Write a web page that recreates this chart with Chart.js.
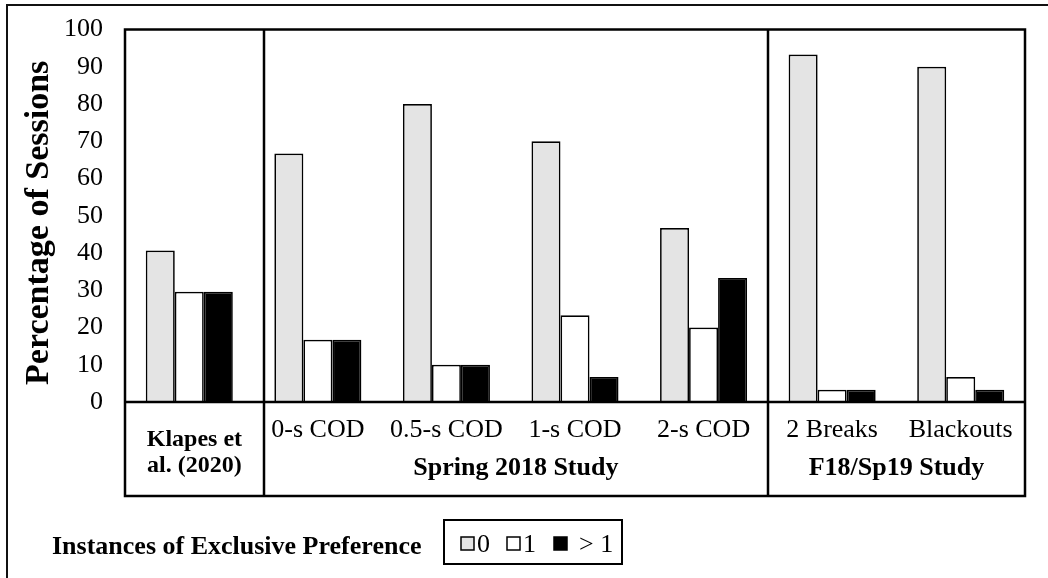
<!DOCTYPE html>
<html>
<head>
<meta charset="utf-8">
<style>
  html, body { margin: 0; padding: 0; background: #fff; }
  canvas { display: block; }
</style>
<script src="https://cdn.jsdelivr.net/npm/chart.js@4.4.1/dist/chart.umd.min.js"></script>
</head>
<body>
<canvas id="c" width="1048" height="578"></canvas>
<script>
// ---- data ----
const categories = ['Klapes et al. (2020)', '0-s COD', '0.5-s COD', '1-s COD', '2-s COD', '2 Breaks', 'Blackouts'];
const categoryLines = [['Klapes et', 'al. (2020)'], ['0-s COD'], ['0.5-s COD'], ['1-s COD'], ['2-s COD'], ['2 Breaks'], ['Blackouts']];
const seriesNames = ['0', '1', '> 1'];
const zeroValues = [40.7, 66.7, 80, 70, 46.7, 93.3, 90];
const oneValues = [29.6, 16.7, 10, 23.3, 20, 3.3, 6.7];
const moreValues = [29.6, 16.7, 10, 6.7, 33.3, 3.3, 3.3];
const yTicks = [0, 10, 20, 30, 40, 50, 60, 70, 80, 90, 100];
const groups = ['Spring 2018 Study', 'F18/Sp19 Study'];
const yTitle = 'Percentage of Sessions';
const legendTitle = 'Instances of Exclusive Preference';

const SERIF = '"Liberation Serif", "Times New Roman", serif';
const colors = ['#e4e4e4', '#ffffff', '#000000'];

const framePlugin = {
  id: 'frame',
  afterDraw(chart) {
    const ctx = chart.ctx;
    const ca = chart.chartArea;
    const x = chart.scales.x;
    const boxBottom = ca.bottom + 94;
    ctx.save();
    // outer frame (top + left)
    ctx.strokeStyle = '#111';
    ctx.lineWidth = 2;
    ctx.beginPath();
    ctx.moveTo(7, 578); ctx.lineTo(7, 5); ctx.lineTo(1048, 5);
    ctx.stroke();

    // plot box
    ctx.strokeStyle = '#000';
    ctx.lineWidth = 2.5;
    ctx.beginPath();
    ctx.rect(ca.left, ca.top, ca.right - ca.left, boxBottom - ca.top);
    ctx.moveTo(ca.left, ca.bottom); ctx.lineTo(ca.right, ca.bottom);
    // dividers between study groups
    const dividers = [0.58, 4.5];
    dividers.forEach(v => {
      const px = Math.round(x.getPixelForValue(v));
      ctx.moveTo(px, ca.top); ctx.lineTo(px, boxBottom);
    });
    ctx.stroke();

    // category labels
    ctx.fillStyle = '#000';
    ctx.textAlign = 'center';
    ctx.textBaseline = 'alphabetic';
    const firstCenter = (x.getPixelForValue(0.58) + ca.left) / 2;
    categoryLines.forEach((lines, i) => {
      const px = x.getPixelForValue(i);
      if (lines.length > 1) {
        ctx.font = 'bold 24px ' + SERIF;
        ctx.fillText(lines[0], firstCenter, ca.bottom + 44);
        ctx.fillText(lines[1], firstCenter, ca.bottom + 70);
      } else {
        ctx.font = '26px ' + SERIF;
        ctx.fillText(lines[0], px, ca.bottom + 35);
      }
    });
    // group labels
    ctx.font = 'bold 26px ' + SERIF;
    const groupEdges = [[x.getPixelForValue(0.58), x.getPixelForValue(4.5)], [x.getPixelForValue(4.5), ca.right]];
    groups.forEach((g, i) => {
      const cx = (groupEdges[i][0] + groupEdges[i][1]) / 2;
      ctx.fillText(g, cx, ca.bottom + 73);
    });

    // y title
    ctx.save();
    ctx.font = 'bold 34px ' + SERIF;
    ctx.translate(48, (ca.top + ca.bottom) / 2 + 7);
    ctx.rotate(-Math.PI / 2);
    ctx.textAlign = 'center';
    ctx.textBaseline = 'alphabetic';
    ctx.fillText(yTitle, 0, 0);
    ctx.restore();

    // legend
    ctx.textAlign = 'left';
    ctx.font = 'bold 26px ' + SERIF;
    ctx.fillText(legendTitle, 52, 554);
    ctx.lineWidth = 2;
    ctx.strokeStyle = '#000';
    ctx.strokeRect(444, 520, 178, 44);
    const sqX = [461, 507, 554];
    const txX = [477, 523, 579];
    chart.data.datasets.forEach((ds, i) => {
      ctx.fillStyle = ds.backgroundColor;
      ctx.fillRect(sqX[i], 537, 13, 13);
      ctx.lineWidth = 1.5;
      ctx.strokeStyle = '#000';
      ctx.strokeRect(sqX[i], 537, 13, 13);
      ctx.fillStyle = '#000';
      ctx.font = '26px ' + SERIF;
      ctx.fillText(ds.label, txX[i], 552);
    });
    ctx.restore();
  }
};

new Chart(document.getElementById('c'), {
  type: 'bar',
  data: {
    labels: categories,
    datasets: [
      { label: seriesNames[0], data: zeroValues, backgroundColor: colors[0] },
      { label: seriesNames[1], data: oneValues, backgroundColor: colors[1] },
      { label: seriesNames[2], data: moreValues, backgroundColor: colors[2] }
    ].map(d => Object.assign(d, {
      borderColor: '#000', borderWidth: 1.7,
      categoryPercentage: 0.677, barPercentage: 1.0
    }))
  },
  options: {
    responsive: false,
    animation: false,
    devicePixelRatio: 1,
    layout: { padding: { left: 0, right: 23, top: 22, bottom: 0 } },
    plugins: { legend: { display: false }, title: { display: false }, tooltip: { enabled: false } },
    scales: {
      x: {
        type: 'category',
        grid: { display: false },
        border: { display: false },
        ticks: { display: false },
        afterFit(s) { s.height = 176; }
      },
      y: {
        min: 0, max: 100,
        afterBuildTicks(s) { s.ticks = yTicks.map(v => ({ value: v })); },
        grid: { display: false },
        border: { display: false },
        ticks: { font: { family: SERIF, size: 26 }, color: '#000', padding: 14 },
        afterFit(s) { s.width = 125; }
      }
    }
  },
  plugins: [framePlugin]
});
</script>
</body>
</html>
